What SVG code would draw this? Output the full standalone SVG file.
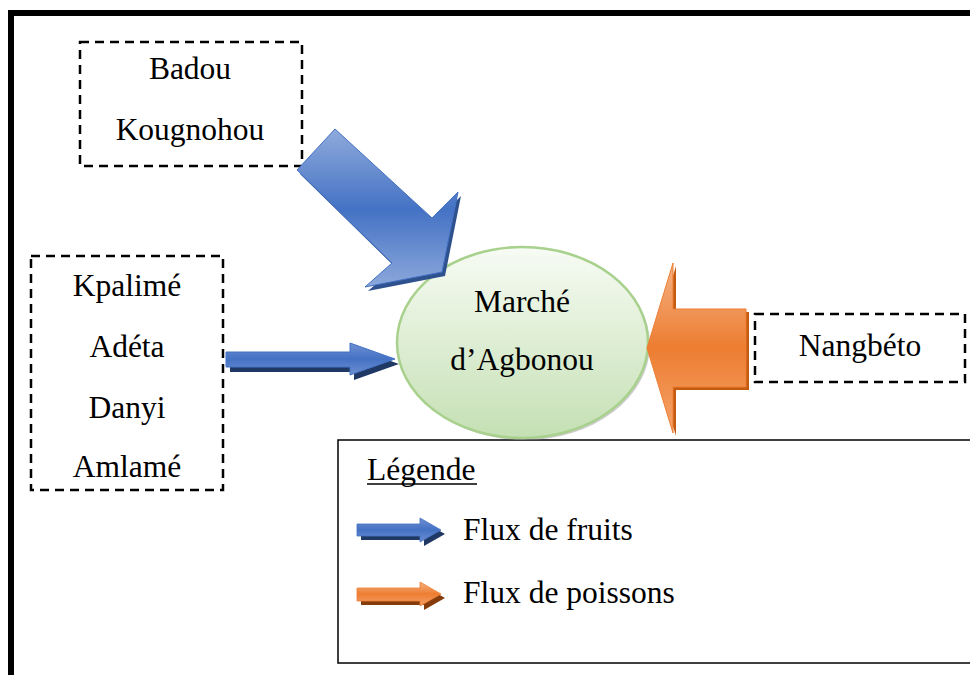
<svg xmlns="http://www.w3.org/2000/svg" width="970" height="675" viewBox="0 0 970 675">
<style>
.t{font-family:'Liberation Serif','DejaVu Serif',serif;font-size:31.5px;fill:#000;text-anchor:middle}
.tl{font-family:'Liberation Serif','DejaVu Serif',serif;font-size:31.5px;fill:#000}
.dash{fill:#fff;stroke:#000;stroke-width:2.5;stroke-dasharray:9 6}
</style>
<defs>
<linearGradient id="bd" gradientUnits="userSpaceOnUse" x1="0" y1="129" x2="0" y2="290">
<stop offset="0" stop-color="#8faadc"/><stop offset="0.5" stop-color="#4472c4"/><stop offset="1" stop-color="#8faadc"/>
</linearGradient>
<linearGradient id="bh" x1="0" y1="0" x2="0" y2="1">
<stop offset="0" stop-color="#6f8fd2"/><stop offset="0.5" stop-color="#4472c4"/><stop offset="1" stop-color="#6f8fd2"/>
</linearGradient>
<linearGradient id="og" x1="0" y1="0" x2="0" y2="1">
<stop offset="0" stop-color="#f4b183"/><stop offset="0.5" stop-color="#ed7d31"/><stop offset="1" stop-color="#f4a36b"/>
</linearGradient>
<linearGradient id="eg" x1="0" y1="0" x2="0" y2="1">
<stop offset="0" stop-color="#f7fbf4"/><stop offset="1" stop-color="#c5e0b4"/>
</linearGradient>
</defs>
<rect x="0" y="0" width="970" height="675" fill="#fff"/>
<rect x="11" y="13" width="1000" height="1000" fill="none" stroke="#000" stroke-width="6"/>
<g id="legende">
<rect x="338" y="440" width="700" height="223" fill="#fff" stroke="#000" stroke-width="1.5"/>
<text class="tl" x="367" y="480">Légende</text>
<line x1="367" y1="484" x2="477" y2="484" stroke="#000" stroke-width="1.5"/>
<polygon points="361,528 424,528 424,522 445,534 424,546 424,540 361,540" fill="#203864"/>
<polygon points="357,524 420,524 420,518 441,530 420,542 420,536 357,536" fill="url(#bh)" stroke="#4472c4" stroke-width="0.8"/>
<text class="tl" x="463" y="540">Flux de fruits</text>
<polygon points="361,592 424,592 424,586 445,598 424,610 424,605 361,605" fill="#843c0c"/>
<polygon points="357,588 420,588 420,582 441,594 420,606 420,601 357,601" fill="url(#og)" stroke="#ed7d31" stroke-width="0.8"/>
<text class="tl" x="463" y="603">Flux de poissons</text>
</g>
<g id="badou">
<rect class="dash" x="80" y="42" width="222" height="124"/>
<text class="t" x="190" y="79">Badou</text>
<text class="t" x="190" y="140">Kougnohou</text>
</g>
<g id="kpalime">
<rect class="dash" x="31" y="256" width="192" height="234"/>
<text class="t" x="127" y="296">Kpalimé</text>
<text class="t" x="127" y="357">Adéta</text>
<text class="t" x="127" y="418">Danyi</text>
<text class="t" x="127" y="477">Amlamé</text>
</g>
<g id="nangbeto">
<rect class="dash" x="755" y="314" width="210" height="68"/>
<text class="t" x="860" y="356">Nangbéto</text>
</g>
<g id="marche">
<ellipse cx="524.5" cy="344.5" rx="125.5" ry="95.5" fill="#999" opacity="0.5"/>
<ellipse cx="522.5" cy="342.5" rx="125.5" ry="95.5" fill="url(#eg)" stroke="#a9d18e" stroke-width="2.5"/>
<text class="t" x="522" y="312">Marché</text>
<text class="t" x="522" y="370">d’Agbonou</text>
</g>
<g id="connectors">
<polygon points="338,133 435,222 461,196 445,276 368,291 395,267 300,174" fill="#2f528f"/>
<polygon points="335,129 432,218 458,192 442,272 365,287 392,263 297,170" fill="url(#bd)" stroke="#4472c4" stroke-width="1"/>
<polygon points="230,357 354,357 354,348 399,364 354,380 354,372 230,372" fill="#203864"/>
<polygon points="226,352 350,352 350,343 395,359 350,375 350,367 226,367" fill="url(#bh)" stroke="#4472c4" stroke-width="1"/>
<polygon points="749,312 676,312 676,266 650,351 676,436 676,390 749,390" fill="#c55a11"/>
<polygon points="746,309 673,309 673,263 647,348 673,433 673,387 746,387" fill="url(#og)" stroke="#ed7d31" stroke-width="1"/>
</g>
</svg>
